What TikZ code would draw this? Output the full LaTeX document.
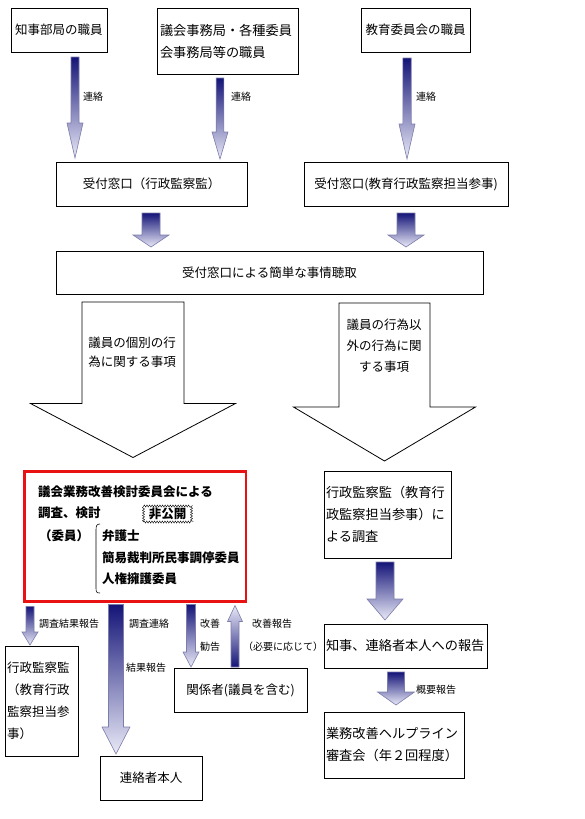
\documentclass[tikz,border=0pt]{standalone}
\usepackage{fontspec}
\setmainfont{Noto Sans CJK JP}
\usepackage{xcolor}
\usepackage{tikz}
\usetikzlibrary{calc,decorations.pathmorphing}

\definecolor{navy}{RGB}{20,20,120}
\definecolor{paleblue}{RGB}{234,234,248}
\definecolor{edgeblue}{RGB}{125,125,170}
\definecolor{redline}{RGB}{232,18,18}

\tikzset{
  box/.style={draw, line width=0.8pt, outer sep=0pt, inner sep=2pt, anchor=north west,
    font=\fontsize{12.5}{22}\selectfont},
  leftbox/.style={box, align=left, inner xsep=2pt},
  widetxt/.style={font=\fontsize{13.2}{22}\selectfont},
  redbox/.style={draw=redline, line width=2.6pt, outer sep=0pt, anchor=north west},
  inbold/.style={anchor=west, inner sep=0pt, font=\fontsize{12.5}{21}\selectfont\bfseries},
  hikoukai/.style={draw, line width=0.4pt, inner sep=1pt, minimum width=48pt, minimum height=16pt,
    decorate, decoration={zigzag, segment length=2.6pt, amplitude=1.1pt},
    font=\fontsize{12.5}{15}\selectfont\bfseries},
  arrowtxt/.style={align=center, inner sep=0pt},
  lbl/.style={anchor=west, inner sep=0pt, font=\fontsize{10}{12}\selectfont},
  fatarrow/.style={draw=edgeblue, line width=0.6pt, top color=navy, bottom color=paleblue},
  fatarrowup/.style={draw=edgeblue, line width=0.6pt, top color=paleblue, bottom color=navy},
  hollowarrow/.style={draw=black, line width=0.8pt, fill=white}
}

% block arrow: x, from, to, start gap, tip gap, half shaft, half head, head length, style
\newcommand{\blockdown}[9]{%
  \path[#9] let \p1=(#2.south), \p2=(#3.north) in
    (#1pt-#6pt,\y1-#4pt) -- (#1pt+#6pt,\y1-#4pt) -- (#1pt+#6pt,\y2+#5pt+#8pt)
    -- (#1pt+#7pt,\y2+#5pt+#8pt) -- (#1pt,\y2+#5pt) -- (#1pt-#7pt,\y2+#5pt+#8pt)
    -- (#1pt-#6pt,\y2+#5pt+#8pt) -- cycle;}
\newcommand{\blockup}[9]{%
  \path[#9] let \p1=(#2.north), \p2=(#3.south) in
    (#1pt-#6pt,\y1+#4pt) -- (#1pt+#6pt,\y1+#4pt) -- (#1pt+#6pt,\y2-#5pt-#8pt)
    -- (#1pt+#7pt,\y2-#5pt-#8pt) -- (#1pt,\y2-#5pt) -- (#1pt-#7pt,\y2-#5pt-#8pt)
    -- (#1pt-#6pt,\y2-#5pt-#8pt) -- cycle;}

\begin{document}
\begin{tikzpicture}[x=1pt, y=-1pt]
    \useasboundingbox[fill=white] (0,0) rectangle (585,819);

    % Senders
    \node[box, minimum width=96pt, minimum height=44pt] (chiji) at (11,8) {知事部局の職員};
    \node[leftbox, widetxt, inner xsep=3pt, text width=135pt, minimum height=66pt] (gikai) at (157,8)
        {議会事務局・各種委員\\会事務局等の職員};
    \node[box, minimum width=109pt, minimum height=44pt] (kyoiku) at (361,8) {教育委員会の職員};

    % Reception desks
    \node[box, minimum width=191pt, minimum height=44pt] (madoA) at (56,162) {受付窓口（行政監察監）};
    \node[box, minimum width=204pt, minimum height=44pt] (madoB) at (304,162) {受付窓口(教育行政監察担当参事)};
    \node[box, minimum width=427pt, minimum height=43pt] (chosyu) at (56,251) {受付窓口による簡単な事情聴取};

    % Committee (red box)
    \node[redbox, minimum width=221.5pt, minimum height=130pt] (iinkai) at (24.5,471.5) {};
    \node[inbold] (rb1) at (38,492) {議会業務改善検討委員会による};
    \node[inbold] (rb2) at (38,513) {調査、検討};
    \node[hikoukai] (closed) at (167.5,514) {非公開};
    \node[inbold] (member) at (39,536) {（委員）};
    \node[inbold] (m1) at (102,536) {弁護士};
    \node[inbold] (m2) at (102,558) {簡易裁判所民事調停委員};
    \node[inbold] (m3) at (102,579) {人権擁護委員};
    \draw[line width=0.6pt] (100,524) .. controls (96.5,524) and (96,526) .. (96,530) -- (96,588)
        .. controls (96,592) and (96.5,593) .. (100,593);

    % Inspector side
    \node[leftbox, widetxt, text width=123pt, minimum height=87pt] (chosa) at (324,471)
        {行政監察監（教育行\\政監察担当参事）に\\よる調査};
    \node[leftbox, widetxt, text width=159pt, minimum height=44pt] (hokoku) at (324,624) {知事、連絡者本人への報告};
    \node[leftbox, widetxt, text width=136pt, minimum height=66pt] (shinsa) at (324,712)
        {業務改善ヘルプライン\\審査会（年２回程度）};

    % Results
    \node[leftbox, text width=69pt, minimum height=110pt] (kansatsu) at (5,646)
        {行政監察監\\（教育行政\\監察担当参\\事）};
    \node[box, minimum width=102pt, minimum height=44pt] (honnin) at (100,756) {連絡者本人};
    \node[box, minimum width=133pt, minimum height=44pt] (kankei) at (174,668) {関係者(議員を含む)};

    % Gradient arrows
    \blockdown{75}{chiji}{madoA}{5}{4}{4}{8}{35}{fatarrow}
    \blockdown{220}{gikai}{madoA}{4}{3}{3.8}{8}{27}{fatarrow}
    \blockdown{407}{kyoiku}{madoB}{6}{3}{4.2}{8}{35}{fatarrow}
    \blockdown{151}{madoA}{chosyu}{7}{4}{9}{18}{12}{fatarrow}
    \blockdown{406}{madoB}{chosyu}{7}{4}{9}{18}{12}{fatarrow}
    \blockdown{385}{chosa}{hokoku}{4}{4}{9}{18}{21}{fatarrow}
    \blockdown{396}{hokoku}{shinsa}{4}{7}{8.5}{18.5}{13}{fatarrow}
    \blockdown{30}{iinkai}{kansatsu}{5}{1}{4}{8}{13}{fatarrow}
    \blockdown{116}{iinkai}{honnin}{3}{2}{7.5}{14}{27}{fatarrow}
    \blockdown{191}{iinkai}{kankei}{3}{1}{4.5}{8}{15}{fatarrow}
    \blockup{235}{kankei}{iinkai}{1}{4}{4}{7.5}{16}{fatarrowup}

    % Hollow arrows
    \blockdown{133}{chosyu}{iinkai}{8}{14}{51}{102.5}{54}{hollowarrow}
    \blockdown{384.5}{chosyu}{chosa}{9}{10}{45.5}{91}{54}{hollowarrow}
    \node[arrowtxt, font=\fontsize{12.5}{19}\selectfont] (kobetsu) at (132,352.5)
        {議員の個別の行\\為に関する事項};
    \node[arrowtxt, font=\fontsize{12.5}{21}\selectfont] (igai) at (384,346)
        {議員の行為以\\外の行為に関\\する事項};

    % Arrow labels
    \node[lbl] (renrakuA) at (83,97) {連絡};
    \node[lbl] (renrakuB) at (231,97) {連絡};
    \node[lbl] (renrakuC) at (416,97) {連絡};
    \node[lbl] (kekkaJ) at (39,624) {調査結果報告};
    \node[lbl] (chosaK) at (129,624) {調査連絡};
    \node[lbl] (kekkaK) at (126,668) {結果報告};
    \node[lbl] (kaizen) at (200,624) {改善};
    \node[lbl] (kankoku) at (200,647) {勧告};
    \node[lbl] (kaizenhk) at (252,624) {改善報告};
    \node[lbl] (hitsuyo) at (243,647) {（必要に応じて）};
    \node[lbl] (gaiyo) at (416,690) {概要報告};
\end{tikzpicture}
\end{document}
